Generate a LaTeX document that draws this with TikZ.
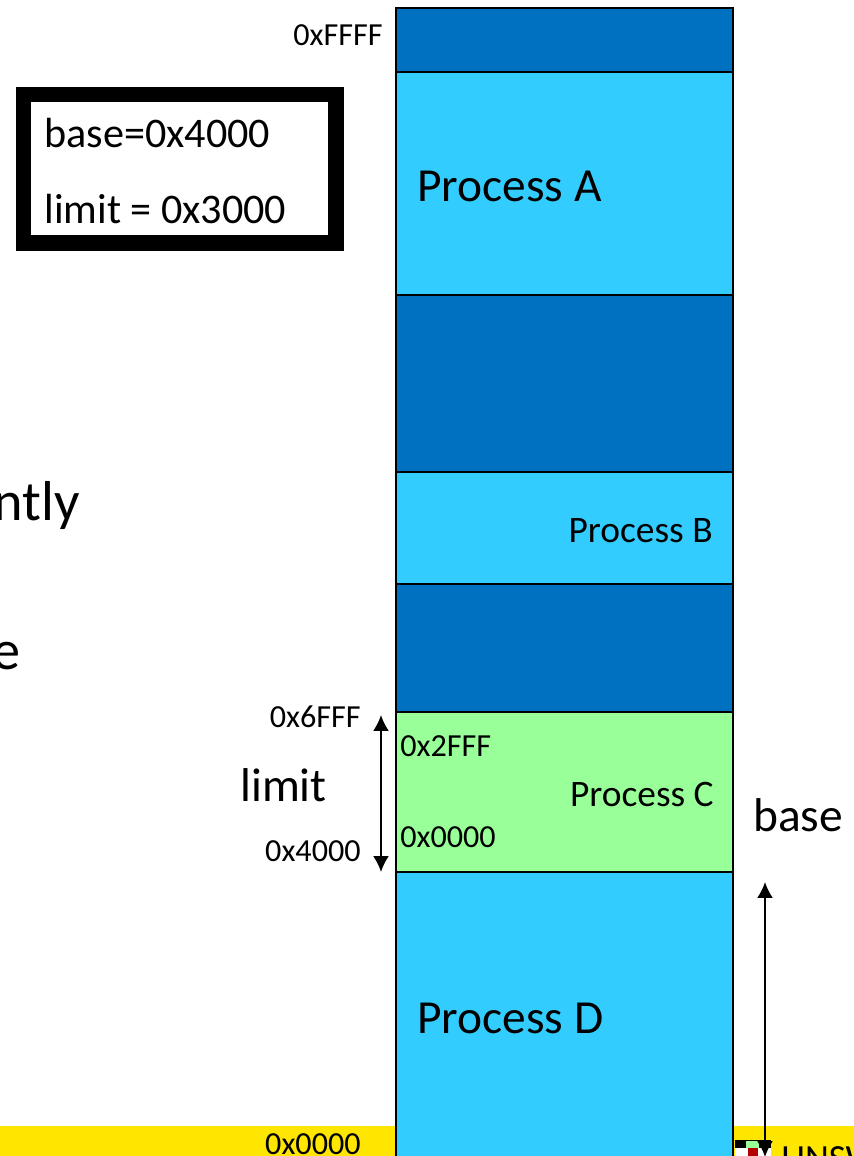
\documentclass[tikz,border=0pt]{standalone}
\usepackage{fontspec}
\setmainfont{Carlito}
\usetikzlibrary{arrows.meta}
\definecolor{darkblock}{HTML}{0070C0}
\definecolor{lightblock}{HTML}{33CCFF}
\definecolor{greenblock}{HTML}{99FF99}
\definecolor{bandyellow}{HTML}{FFE600}
\tikzset{
  memblock/.style={draw=black,line width=1.3pt},
  addr/.style={font=\fontsize{18.3}{20}\selectfont,inner sep=0pt},
  proc/.style={font=\fontsize{21.3}{24}\selectfont,inner sep=0pt},
  bigproc/.style={font=\fontsize{27}{30}\selectfont,inner sep=0pt},
  side/.style={font=\fontsize{27}{30}\selectfont,inner sep=0pt},
  reg/.style={font=\fontsize{24}{28}\selectfont,inner sep=0pt},
  slide/.style={font=\fontsize{32}{36}\selectfont,inner sep=0pt},
  sizearrow/.style={line width=1.1pt,{Latex[length=9pt,width=9pt]}-{Latex[length=9pt,width=9pt]}}
}
\begin{document}
\begin{tikzpicture}[x=0.02cm,y=-0.02cm]
    \useasboundingbox (0,0) rectangle (854,1156);
    \clip (0,0) rectangle (854,1156);
    %bande du bas
    \fill[bandyellow] (0,1126) rectangle (854,1156);
    %blocs memoire
    \draw[memblock,fill=darkblock] (396,8) rectangle (733,72);
    \draw[memblock,fill=lightblock] (396,72) rectangle (733,295);
    \draw[memblock,fill=darkblock] (396,295) rectangle (733,472);
    \draw[memblock,fill=lightblock] (396,472) rectangle (733,584);
    \draw[memblock,fill=darkblock] (396,584) rectangle (733,712);
    \draw[memblock,fill=greenblock] (396,712) rectangle (733,872);
    \draw[memblock,fill=lightblock] (396,872) rectangle (733,1170);
    %registres
    \draw[line width=9pt] (23.5,94.5) rectangle (336,243);
    \node[reg,anchor=base west] (base reg) at (44,147) {base=0x4000};
    \node[reg,anchor=base west] (limit reg) at (44,223) {limit = 0x3000};
    %texte coupe
    \node[slide,anchor=base east] (cut a) at (80,520) {ntly};
    \node[slide,anchor=base east] (cut b) at (21,669) {e};
    %noms des processus
    \node[bigproc,anchor=base west] (proc a) at (417,201) {Process A};
    \node[proc,anchor=base east] (proc b) at (713,542) {Process B};
    \node[proc,anchor=base east] (proc c) at (714,806) {Process C};
    \node[bigproc,anchor=base west] (proc d) at (417,1033) {Process D};
    %adresses
    \node[addr,anchor=base east] (top addr) at (383,45) {0xFFFF};
    \node[addr,anchor=base east] (c high) at (361,727) {0x6FFF};
    \node[addr,anchor=base east] (c low) at (361,861) {0x4000};
    \node[addr,anchor=base west] (v high) at (400,756) {0x2FFF};
    \node[addr,anchor=base west] (v low) at (400,847) {0x0000};
    \node[addr,anchor=base east] (bottom addr) at (361,1154) {0x0000};
    \node[side,anchor=base west] (limit) at (240,801) {limit};
    \node[side,anchor=base west] (base) at (753,831) {base};
    %logo
    \fill[black] (735,1140) rectangle (771,1148);
    \fill[white] (735,1148) rectangle (771,1156);
    \fill[white!60!green] (746,1141) rectangle (759,1148);
    \fill[red!70!black] (748,1148) rectangle (758,1156);
    \node[side,font=\fontsize{21}{24}\selectfont,anchor=base west] (logo) at (781,1170) {UNSW};
    %fleches
    \coordinate (limit top) at (381,715);
    \coordinate (limit bot) at (381,872);
    \coordinate (base top) at (765,882);
    \coordinate (base bot) at (765,1157);
    \draw[sizearrow] (limit top) -- (limit bot);
    \draw[sizearrow] (base top) -- (base bot);
\end{tikzpicture}
\end{document}
